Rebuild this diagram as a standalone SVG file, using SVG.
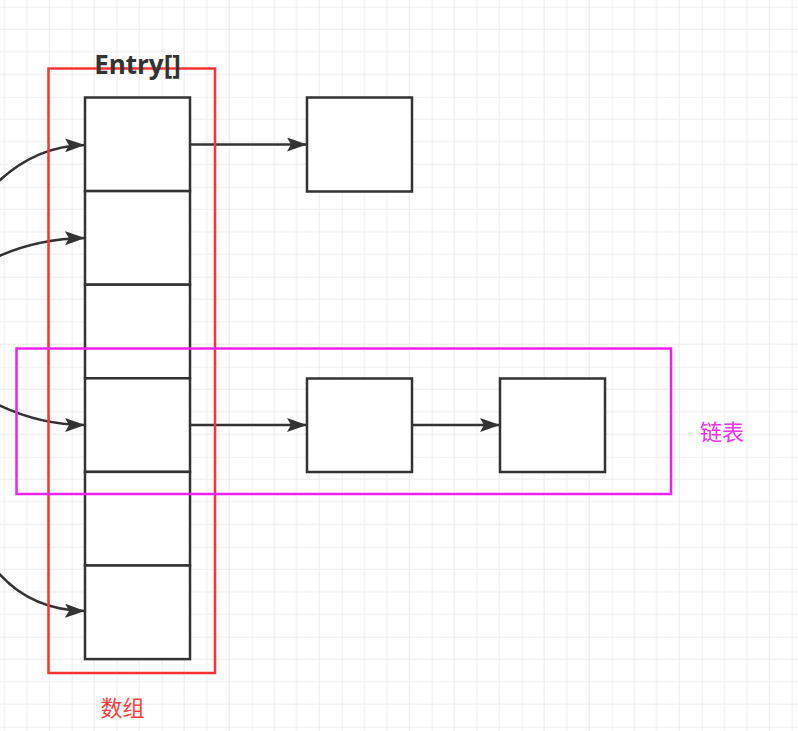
<svg xmlns="http://www.w3.org/2000/svg" width="798" height="731" viewBox="0 0 798 731">
  <defs>
    <pattern id="grid" patternUnits="userSpaceOnUse" x="-18.3" y="6.7" width="90" height="90">
      <path d="M22.5 0V90M45 0V90M67.5 0V90M0 22.5H90M0 45H90M0 67.5H90" stroke="#ececec" stroke-width="1" fill="none"/>
      <path d="M0 0V90M0 0H90" stroke="#e0e0e0" stroke-width="1" fill="none"/>
    </pattern>
    <marker id="arr" markerUnits="userSpaceOnUse" markerWidth="22" markerHeight="16" refX="20" refY="7" orient="auto">
      <path d="M0 0L20 7L0 14L4 7Z" fill="#333"/>
    </marker>
  </defs>
  <style>
    .box{fill:#fff;stroke:#333;stroke-width:2.5}
    .edge{fill:none;stroke:#333;stroke-width:2.5;marker-end:url(#arr)}
    .title{font-family:"Open Sans","DejaVu Sans",sans-serif;font-weight:bold;font-size:26px;fill:#333}
    .cjk{font-family:"Noto Sans CJK SC",sans-serif;font-size:22px}
  </style>
  <rect width="798" height="731" fill="#fff"/>
  <rect width="798" height="731" fill="url(#grid)"/>

  <g id="array">
    <rect class="box" x="85" y="97.5" width="105" height="93.6"/>
    <rect class="box" x="85" y="191.1" width="105" height="93.6"/>
    <rect class="box" x="85" y="284.7" width="105" height="93.6"/>
    <rect class="box" x="85" y="378.3" width="105" height="93.6"/>
    <rect class="box" x="85" y="471.9" width="105" height="93.6"/>
    <rect class="box" x="85" y="565.5" width="105" height="93.6"/>
  </g>
  <g id="node1"><rect class="box" x="307" y="97.5" width="105" height="94"/></g>
  <g id="node2"><rect class="box" x="307" y="378.5" width="105" height="93.5"/></g>
  <g id="node3"><rect class="box" x="500" y="378.5" width="105" height="93.5"/></g>

  <g id="connectors">
    <path class="edge" d="M190 144.5H307"/>
    <path class="edge" d="M190 425H307"/>
    <path class="edge" d="M412 425H500"/>
    <path class="edge" d="M-12 192Q30 146 85 145"/>
    <path class="edge" d="M-30 272Q20 239 85 238"/>
    <path class="edge" d="M-20 395Q30 425 85 425"/>
    <path class="edge" d="M-15 555Q20 610 85 611"/>
  </g>

  <g id="array-frame">
    <rect x="48.5" y="68.5" width="166.5" height="604.5" fill="none" stroke="#ff3333" stroke-width="2.5"/>
    <text class="title" x="137.5" y="74" text-anchor="middle">Entry[]</text>
    <text class="cjk" x="122.5" y="716" text-anchor="middle" fill="#ff4040">数组</text>
  </g>
  <g id="list-frame">
    <rect x="16.5" y="348.5" width="654.5" height="145.5" fill="none" stroke="#ee22ee" stroke-width="2.5"/>
    <text class="cjk" x="722" y="440" text-anchor="middle" fill="#ee33ee">链表</text>
  </g>
</svg>
